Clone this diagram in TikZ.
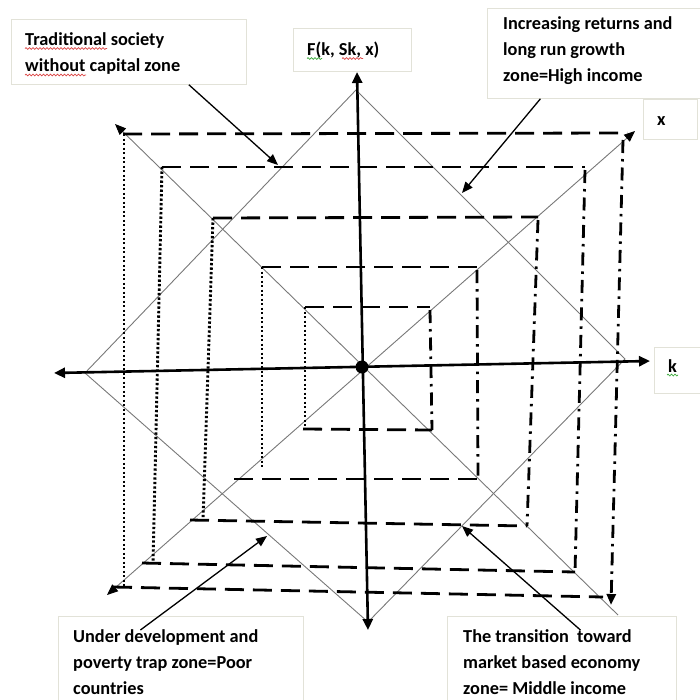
\documentclass[tikz,border=0pt]{standalone}
\usepackage{fontspec}
\setmainfont{Carlito}
\usetikzlibrary{arrows.meta,calc,decorations.pathmorphing}
\definecolor{cadre}{RGB}{226,226,216}
\definecolor{diaggris}{RGB}{120,120,120}
\definecolor{ortho}{RGB}{220,70,70}
\definecolor{gramm}{RGB}{60,170,60}

\begin{document}
\begin{tikzpicture}[x=1pt,y=-1pt,
  zone/.style={draw=cadre,fill=white,line width=0.8pt,anchor=north west,inner sep=0pt},
  zonetxt/.style={anchor=base west,align=left,inner sep=0pt,font=\fontsize{18.3}{26}\selectfont\bfseries},
  axe/.style={line width=2.6pt,{Triangle[length=11pt,width=10pt]}-{Triangle[length=11pt,width=10pt]}},
  diag/.style={draw=diaggris,line width=0.9pt},
  tiret/.style={line width=2.8pt,dash pattern=on 19pt off 9pt},
  pointille/.style={line width=2.9pt,dash pattern=on 2.3pt off 2.2pt},
  mixte/.style={line width=2.8pt,dash pattern=on 13pt off 6pt on 2.5pt off 6pt},
  fleche/.style={line width=1.3pt,-{Triangle[length=11pt,width=9pt]}},
  souligne/.style={decorate,decoration={snake,amplitude=0.9pt,segment length=3.5pt},line width=0.7pt}]
\useasboundingbox (0,0) rectangle (700,699);
\clip (0,0) rectangle (700,699);
% Points
\coordinate (O) at (362,367);
\coordinate (kG) at (54,373);
\coordinate (kD) at (650,361);
\coordinate (fH) at (357,72);
\coordinate (fB) at (368,630);
\coordinate (sH) at (356,90);
\coordinate (sD) at (625,359);
\coordinate (sB) at (368,622);
\coordinate (sG) at (85,373);
\coordinate (dHG) at (115,124);
\coordinate (dBD) at (618,615);
\coordinate (dBG) at (107,595);
\coordinate (dHD) at (635,131);
% Losange et diagonales
\draw[diag] (sH) -- (sD) -- (sB) -- (sG) -- cycle;
\draw[diag,{Triangle[length=11pt,width=9pt,color=black]}-] (dHG) -- (dBD);
\draw[diag,{Triangle[length=11pt,width=9pt,color=black]}-{Triangle[length=11pt,width=9pt,color=black]}] (dBG) -- (dHD);
% Niveau 1
\draw[tiret] (123,134) -- (627,133);
\draw[pointille] (124,134) -- (124,587);
\draw[tiret] (113,587) -- (603,597);
\draw[mixte,-{Triangle[length=11pt,width=9pt]}] (623,140) -- (611,605);
% Niveau 2
\draw[tiret] (162,167) -- (585,167);
\draw[pointille] (162,167) -- (153,563);
\draw[tiret] (142,563) -- (575,572);
\draw[mixte] (585,170) -- (575,572);
% Niveau 3
\draw[tiret] (213,218) -- (538,217);
\draw[pointille] (213,218) -- (203,520);
\draw[tiret] (190,520) -- (527,526);
\draw[mixte] (538,220) -- (527,526);
% Niveau 4
\draw[tiret] (262,267) -- (477,267);
\draw[pointille] (262,267) -- (262,467);
\draw[tiret] (234,479) -- (478,479);
\draw[mixte] (477,270) -- (478,479);
% Niveau 5
\draw[tiret] (305,307) -- (430,307);
\draw[pointille] (305,307) -- (305,429);
\draw[tiret] (303,429) -- (432,430);
\draw[mixte] (430,310) -- (432,430);
% Axes
\draw[axe] (kG) -- (kD);
\draw[axe] (fB) -- (fH);
\fill (O) circle (6.5pt);
% Zones
\node[zone,minimum width=235pt,minimum height=65pt] (tradbox) at (11,19) {};
\node[zone,minimum width=118pt,minimum height=43pt] (fbox) at (293,28) {};
\node[zone,minimum width=218pt,minimum height=90pt] (incbox) at (487,8) {};
\node[zone,minimum width=54pt,minimum height=40pt] (xbox) at (643,99) {};
\node[zone,minimum width=51pt,minimum height=46pt] (kbox) at (654,347) {};
\node[zone,minimum width=245pt,minimum height=89pt] (underbox) at (58,616) {};
\node[zone,minimum width=229pt,minimum height=89pt] (transbox) at (447,616) {};
% (base = ligne du bas)
\node[zonetxt] (tradtxt) at (25,71.5) {Traditional society\\without capital zone};
\node[zonetxt] (ftxt) at (307,55) {F(k,~Sk,~x)};
\node[zonetxt] (inctxt) at (503,81) {Increasing returns and\\long run growth\\zone=High income};
\node[zonetxt] (xtxt) at (657,125) {x};
\node[zonetxt] (ktxt) at (668,372) {k};
\node[zonetxt] (undertxt) at (73,694) {Under development and\\poverty trap zone=Poor\\countries};
\node[zonetxt] (transtxt) at (463,694) {The transition~~toward\\market based economy\\zone= Middle income};
% Soulignements
\draw[souligne,ortho] (25,48.5) -- (107,48.5);
\draw[souligne,ortho] (25,75) -- (86,75);
\draw[souligne,gramm] (307,58.5) -- (322,58.5);
\draw[souligne,ortho] (342,58.5) -- (363,58.5);
\draw[souligne,gramm] (667,375) -- (678,375);
% Flèches
\coordinate (tradpt) at (278,165);
\coordinate (incpt) at (462,193);
\coordinate (underpt) at (267,536);
\coordinate (transpt) at (462,526);
\draw[fleche] ([xshift=60pt]tradbox.south) -- (tradpt);
\draw[fleche] ([xshift=-56pt]incbox.south) -- (incpt);
\draw[fleche] ([xshift=-40.5pt,yshift=-14pt]underbox.north) -- (underpt);
\draw[fleche] ([xshift=18.5pt,yshift=-14pt]transbox.north) -- (transpt);
\end{tikzpicture}
\end{document}
